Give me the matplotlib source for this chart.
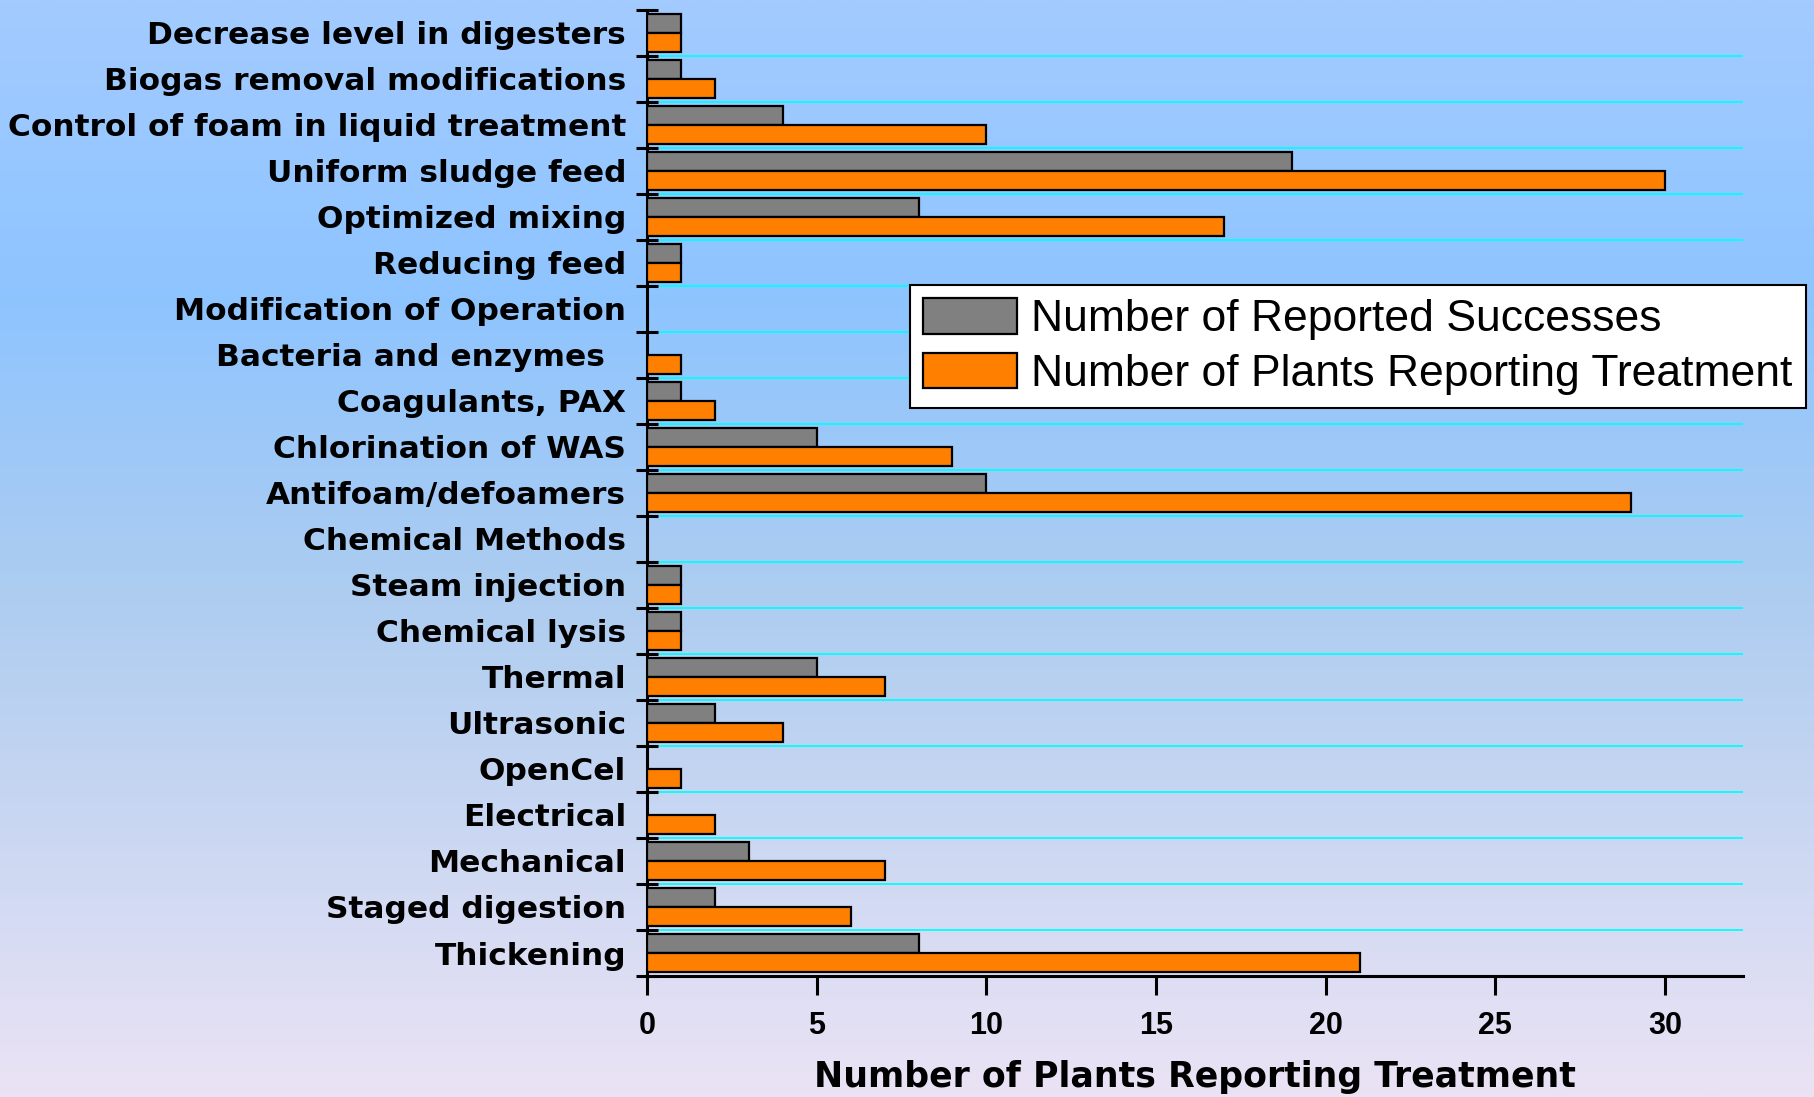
import matplotlib.pyplot as plt
import numpy as np
from matplotlib.colors import LinearSegmentedColormap

categories = [
    'Decrease level in digesters',
    'Biogas removal modifications',
    'Control of foam in liquid treatment',
    'Uniform sludge feed',
    'Optimized mixing',
    'Reducing feed',
    'Modification of Operation',
    'Bacteria and enzymes  ',
    'Coagulants, PAX',
    'Chlorination of WAS',
    'Antifoam/defoamers',
    'Chemical Methods',
    'Steam injection',
    'Chemical lysis',
    'Thermal',
    'Ultrasonic',
    'OpenCel',
    'Electrical',
    'Mechanical',
    'Staged digestion',
    'Thickening',
]
successes = [1, 1, 4, 19, 8, 1, 0, 0, 1, 5, 10, 0, 1, 1, 5, 2, 0, 0, 3, 2, 8]
treated = [1, 2, 10, 30, 17, 1, 0, 1, 2, 9, 29, 0, 1, 1, 7, 4, 1, 2, 7, 6, 21]
x_ticks = [0, 5, 10, 15, 20, 25, 30]

plt.rcParams['font.family'] = ['Liberation Sans', 'DejaVu Sans']
wide_bold = dict(family='DejaVu Sans', fontweight='bold')

fig = plt.figure(figsize=(18.14, 10.97), dpi=100)

# background gradient, light blue at the top fading to lavender
bg = fig.add_axes([0, 0, 1, 1], zorder=-10)
bg_cmap = LinearSegmentedColormap.from_list('bg', [
    (0.0, (163/255, 203/255, 255/255)),
    (0.27, (142/255, 196/255, 255/255)),
    (0.55, (174/255, 205/255, 240/255)),
    (1.0, (235/255, 227/255, 245/255)),
])
bg.imshow(np.linspace(0, 1, 512).reshape(-1, 1), aspect='auto', cmap=bg_cmap,
          extent=[0, 1, 0, 1], origin='upper')
bg.set_axis_off()

ax = fig.add_axes([0.3567, 0.1103, 0.9609 - 0.3567, 0.9909 - 0.1103])
ax.patch.set_alpha(0)

y = np.arange(len(categories))
h = 0.41
ax.barh(y - h / 2, successes, height=h, color='#808080', edgecolor='black',
        linewidth=1.6, label='Number of Reported Successes', zorder=3)
ax.barh(y + h / 2, treated, height=h, color='#FF8000', edgecolor='black',
        linewidth=1.6, label='Number of Plants Reporting Treatment', zorder=3)

ax.set_ylim(len(categories) - 0.5, -0.5)
ax.set_xlim(0, 32.3)

# cyan separators between categories
for b in np.arange(0.5, len(categories) - 1, 1.0):
    ax.axhline(b, color='#00FFFF', linewidth=1.3, zorder=1)

ax.set_yticks(y)
ax.set_yticklabels(categories, fontsize=22.5, **wide_bold)
ax.tick_params(axis='y', which='major', length=0, pad=15)
ax.set_yticks(np.arange(-0.5, len(categories), 1.0), minor=True)
ax.tick_params(axis='y', which='minor', length=16, width=2.2, direction='inout')

ax.set_xticks(x_ticks)
ax.set_xticklabels([str(v) for v in x_ticks], fontsize=22, fontweight='bold')
ax.tick_params(axis='x', length=14, width=2.2, direction='out', pad=11)
ax.set_xlabel('Number of Plants Reporting Treatment', fontsize=25,
              labelpad=14, **wide_bold)

for s in ['top', 'right']:
    ax.spines[s].set_visible(False)
for s in ['left', 'bottom']:
    ax.spines[s].set_linewidth(2.2)

leg = ax.legend(loc='upper left', bbox_to_anchor=(910 / 1814, 1 - 285 / 1097),
                bbox_transform=fig.transFigure, fontsize=32, frameon=True,
                fancybox=False, framealpha=1, edgecolor='black',
                handlelength=2.1, handleheight=0.85, handletextpad=0.32,
                borderpad=0.3, labelspacing=0.28, borderaxespad=0)
leg.get_frame().set_linewidth(1.5)

fig.savefig('out.png', dpi=100)
